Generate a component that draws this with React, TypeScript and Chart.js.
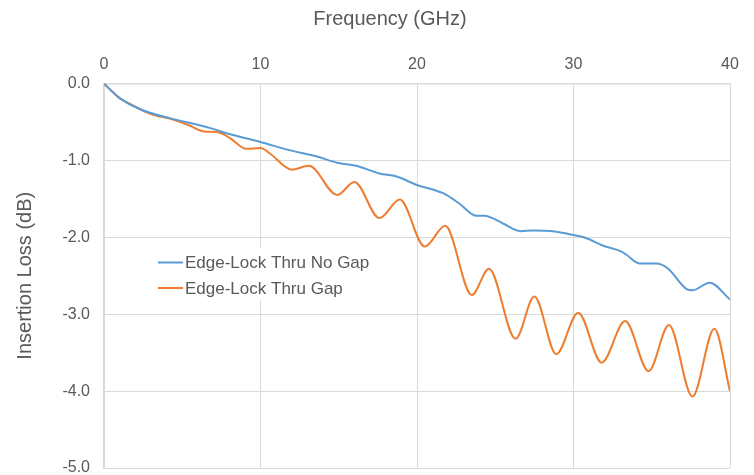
import React, { useEffect, useRef } from "react";
import { Chart, registerables } from "chart.js";

Chart.register(...registerables);

const noGapFreq = [0, 0.5, 1, 2.3, 4.2, 6.8, 8.05, 10, 11.9, 13.6, 14.9, 16.1, 17.6, 18.7, 20, 21.7, 22.7, 23.8, 24.3, 25.5, 26.6, 27.4, 28.7, 30, 30.8, 31.9, 33, 33.4, 34.2, 35.3, 36, 37.2, 37.6, 38.7, 40];
const noGapLoss = [0, -0.1, -0.19, -0.335, -0.45, -0.58, -0.66, -0.76, -0.87, -0.95, -1.03, -1.07, -1.17, -1.21, -1.32, -1.43, -1.56, -1.72, -1.72, -1.82, -1.92, -1.91, -1.92, -1.97, -2.01, -2.11, -2.18, -2.23, -2.34, -2.34, -2.4, -2.67, -2.69, -2.59, -2.81];

const gapFreq = [0, 0.5, 1, 2, 2.9, 4.4, 5.5, 6.3, 7.4, 8.05, 9.1, 10, 10.6, 12, 13.1, 14.9, 16, 17.6, 18.9, 20.5, 21.8, 23.5, 24.6, 26.3, 27.5, 28.9, 30.3, 31.8, 33.3, 34.8, 36.1, 37.6, 39, 40];
const gapLoss = [0, -0.1, -0.19, -0.3, -0.39, -0.47, -0.55, -0.62, -0.64, -0.71, -0.85, -0.84, -0.91, -1.12, -1.07, -1.45, -1.28, -1.75, -1.51, -2.12, -1.85, -2.75, -2.41, -3.32, -2.77, -3.52, -2.98, -3.63, -3.09, -3.74, -3.14, -4.07, -3.19, -4.0];

const seriesLabels = ["Edge-Lock Thru No Gap", "Edge-Lock Thru Gap"];
const seriesColors = ["#5B9BD5", "#ED7D31"];
const xTitle = "Frequency (GHz)";
const yTitle = "Insertion Loss (dB)";

const TEXT = "#595959";
const GRID = "#d9d9d9";
const FONT = "'Liberation Sans', Arial, sans-serif";

const topTitlePlugin = {
  id: "topTitle",
  afterDraw(chart: any) {
    const { ctx, chartArea } = chart;
    ctx.save();
    ctx.font = `20px ${FONT}`;
    ctx.fillStyle = TEXT;
    ctx.textAlign = "center";
    ctx.textBaseline = "middle";
    ctx.fillText(xTitle, chartArea.left + 286, 19);
    ctx.restore();
  },
};

const innerLegendPlugin = {
  id: "innerLegend",
  afterDraw(chart: any) {
    const { ctx, chartArea } = chart;
    const x0 = chartArea.left + 54;
    const y0 = chartArea.top + 179;
    ctx.save();
    ctx.fillStyle = "#ffffff";
    ctx.fillRect(x0 - 3, y0 - 14, 224, 52);
    chart.data.datasets.forEach((ds: any, i: number) => {
      const y = y0 + i * 25.5;
      ctx.strokeStyle = ds.borderColor;
      ctx.lineWidth = 2;
      ctx.beginPath();
      ctx.moveTo(x0, y);
      ctx.lineTo(x0 + 25, y);
      ctx.stroke();
      ctx.font = `17px ${FONT}`;
      ctx.fillStyle = TEXT;
      ctx.textAlign = "left";
      ctx.textBaseline = "middle";
      ctx.fillText(ds.label, x0 + 27, y + 1);
    });
    ctx.restore();
  },
};

export default function App() {
  const ref = useRef<HTMLCanvasElement | null>(null);
  useEffect(() => {
    if (!ref.current) return;
    const chart = new Chart(ref.current, {
      type: "line",
      data: {
        datasets: [
          {
            label: seriesLabels[0],
            data: noGapFreq.map((f, i) => ({ x: f, y: noGapLoss[i] })),
            borderColor: seriesColors[0],
            backgroundColor: seriesColors[0],
            borderWidth: 2,
            pointRadius: 0,
            cubicInterpolationMode: "monotone",
            fill: false,
          },
          {
            label: seriesLabels[1],
            data: gapFreq.map((f, i) => ({ x: f, y: gapLoss[i] })),
            borderColor: seriesColors[1],
            backgroundColor: seriesColors[1],
            borderWidth: 2,
            pointRadius: 0,
            cubicInterpolationMode: "monotone",
            fill: false,
          },
        ],
      },
      options: {
        animation: false,
        responsive: false,
        devicePixelRatio: 1,
        layout: { padding: { left: 0, right: 24, top: 0, bottom: 7 } },
        plugins: {
          legend: { display: false },
          tooltip: { enabled: false },
          title: { display: false },
        },
        scales: {
          x: {
            type: "linear",
            position: "top",
            min: 0,
            max: 40,
            ticks: {
              stepSize: 10,
              color: TEXT,
              font: { family: FONT, size: 16 },
              padding: 9,
              maxRotation: 0,
            },
            grid: { color: GRID, lineWidth: 1, drawTicks: false },
            border: { color: GRID, width: 1.5 },
            afterFit(scale: any) {
              scale.height = 83.5;
              scale.paddingLeft = 0;
              scale.paddingRight = 0;
            },
          },
          y: {
            type: "linear",
            min: -5,
            max: 0,
            ticks: {
              stepSize: 1,
              color: TEXT,
              font: { family: FONT, size: 16 },
              padding: 14,
              callback: (v: any) => Number(v).toFixed(1),
            },
            grid: { color: GRID, lineWidth: 1, drawTicks: false },
            border: { color: GRID, width: 1.5 },
            title: {
              display: true,
              text: yTitle,
              color: TEXT,
              font: { family: FONT, size: 20, weight: "normal" },
              padding: { top: 13, bottom: 0 },
            },
            afterFit(scale: any) {
              scale.width = 104;
              scale.paddingTop = 0;
              scale.paddingBottom = 0;
            },
          },
        },
      } as any,
      plugins: [topTitlePlugin, innerLegendPlugin],
    });
    return () => chart.destroy();
  }, []);

  return (
    <div style={{ position: "fixed", left: 0, top: 0, width: 754, height: 475, background: "#fff" }}>
      <canvas ref={ref} width={754} height={475} style={{ width: 754, height: 475, display: "block" }} />
    </div>
  );
}
